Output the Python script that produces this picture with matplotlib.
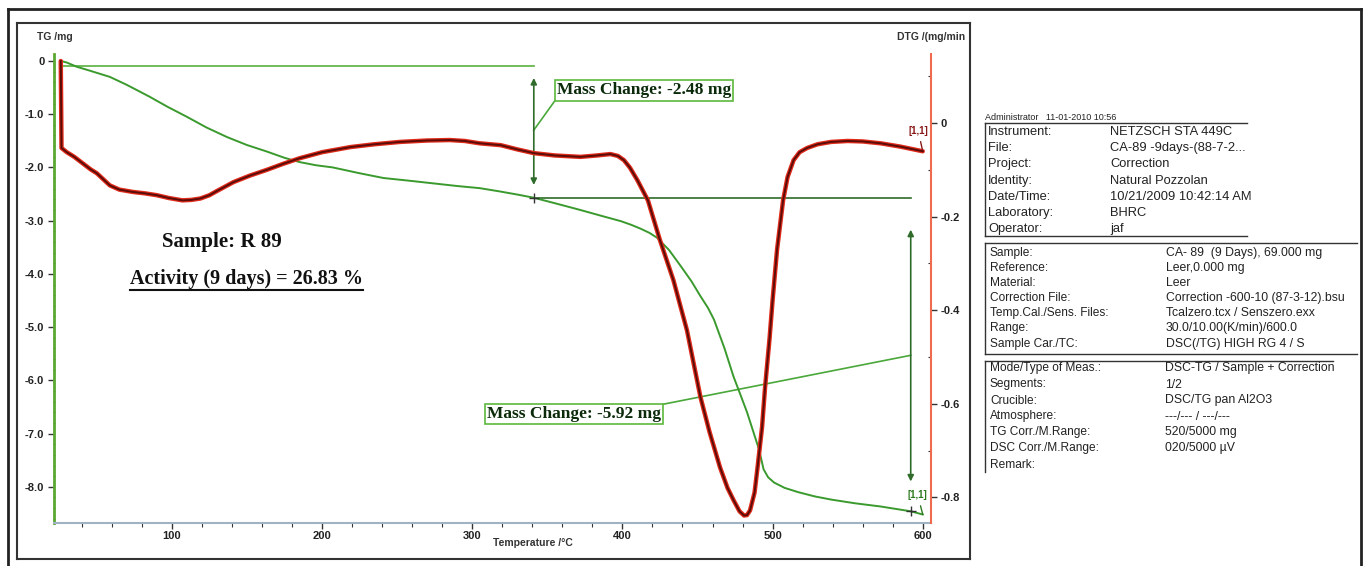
import matplotlib.pyplot as plt
import numpy as np
from matplotlib.lines import Line2D
from matplotlib.ticker import MultipleLocator

# TG curve (mg)
temp_tg = [26, 30, 36.7, 45, 58.7, 70, 85, 97, 110, 123, 136.7, 150, 163, 175, 185, 196, 207,
           225, 241, 258, 274, 290, 305, 318, 330, 341, 356, 372, 386, 399, 406, 412, 418, 423,
           431, 439, 446, 452, 457, 461, 468, 474, 479, 483, 487, 491, 494, 497, 501, 508, 517,
           528, 539, 555, 572, 592, 600]
tg = [0, -0.03, -0.11, -0.18, -0.30, -0.45, -0.67, -0.86, -1.05, -1.25, -1.43, -1.58, -1.70,
      -1.82, -1.90, -1.96, -2.00, -2.11, -2.20, -2.25, -2.30, -2.35, -2.39, -2.45, -2.51, -2.57,
      -2.68, -2.80, -2.91, -3.01, -3.08, -3.15, -3.23, -3.32, -3.55, -3.86, -4.14, -4.42, -4.64,
      -4.86, -5.40, -5.93, -6.30, -6.60, -6.95, -7.30, -7.67, -7.82, -7.92, -8.02, -8.10, -8.18,
      -8.24, -8.31, -8.37, -8.46, -8.52]

# DTG curve (mg/min)
temp_dtg = [26, 26.5, 30, 35, 40.7, 46, 50, 55, 58.7, 65, 74, 82, 90, 98, 107, 113, 119, 125,
            130, 141, 152, 163, 174, 185, 200, 219, 235, 252, 270, 285, 295, 305, 319, 330, 341,
            355, 372, 383, 392, 397, 401, 405, 410, 417, 425, 434, 443, 452, 458, 465, 470, 474,
            478, 481, 483, 485, 488, 490, 493, 495, 498, 500, 503, 507, 510, 514, 518, 523, 530,
            539, 550, 560, 572, 585, 600]
dtg = [0.133, -0.053, -0.062, -0.072, -0.086, -0.099, -0.107, -0.122, -0.133, -0.142, -0.147,
       -0.150, -0.154, -0.160, -0.165, -0.164, -0.161, -0.154, -0.145, -0.126, -0.112, -0.100,
       -0.087, -0.075, -0.062, -0.051, -0.045, -0.040, -0.037, -0.036, -0.038, -0.043, -0.047,
       -0.056, -0.064, -0.069, -0.072, -0.069, -0.066, -0.070, -0.079, -0.095, -0.122, -0.165,
       -0.25, -0.336, -0.443, -0.586, -0.66, -0.736, -0.78, -0.806, -0.83, -0.839, -0.838,
       -0.828, -0.79, -0.736, -0.65, -0.565, -0.46, -0.379, -0.27, -0.165, -0.115, -0.079,
       -0.062, -0.053, -0.045, -0.040, -0.038, -0.039, -0.043, -0.050, -0.060]

# mass change steps
step_temps = [341, 592]
step_levels = [-0.09, -2.57, -8.46]
mass_changes = [-2.48, -5.92]

sample_name = "R 89"
activity = 26.83

# info table on the right
header = "Administrator   11-01-2010 10:56"
block1_labels = ["Instrument:", "File:", "Project:", "Identity:", "Date/Time:", "Laboratory:", "Operator:"]
block1_values = ["NETZSCH STA 449C", "CA-89 -9days-(88-7-2...", "Correction", "Natural Pozzolan",
                 "10/21/2009 10:42:14 AM", "BHRC", "jaf"]
block2_labels = ["Sample:", "Reference:", "Material:", "Correction File:", "Temp.Cal./Sens. Files:",
                 "Range:", "Sample Car./TC:"]
block2_values = ["CA- 89  (9 Days), 69.000 mg", "Leer,0.000 mg", "Leer",
                 "Correction -600-10 (87-3-12).bsu", "Tcalzero.tcx / Senszero.exx",
                 "30.0/10.00(K/min)/600.0", "DSC(/TG) HIGH RG 4 / S"]
block3_labels = ["Mode/Type of Meas.:", "Segments:", "Crucible:", "Atmosphere:", "TG Corr./M.Range:",
                 "DSC Corr./M.Range:", "Remark:"]
block3_values = ["DSC-TG / Sample + Correction", "1/2", "DSC/TG pan Al2O3", "---/--- / ---/---",
                 "520/5000 mg", "020/5000 \u00b5V", ""]

W, H = 1368, 566
plt.rcParams['font.family'] = ['Liberation Sans', 'DejaVu Sans']


def fx(x):
    return x / W


def fy(y):
    return 1 - y / H


fig = plt.figure(figsize=(W / 100, H / 100), dpi=100)

green = '#3a9a2e'
dkgreen = '#2f6b2a'
ax = fig.add_axes([fx(54), fy(523), (931 - 54) / W, (523 - 54) / H])
ax.plot(temp_tg, tg, color=green, lw=1.4, solid_joinstyle='round', zorder=3)
ax.set_xlim(21.5, 605.5)
ax.set_ylim(-8.68, 0.13)

ax2 = ax.twinx()
ax2.plot(temp_dtg, dtg, color='#e02a1a', lw=3.2, solid_capstyle='round', solid_joinstyle='round', zorder=3)
ax2.plot(temp_dtg, dtg, color='#5a0c08', lw=1.4, solid_joinstyle='round', zorder=4)
ax2.set_ylim(-0.855, 0.148)

# spines and ticks
for s in ['top', 'right']:
    ax.spines[s].set_visible(False)
ax.spines['left'].set_color('#5aa832')
ax.spines['left'].set_linewidth(2)
ax.spines['bottom'].set_color('#9fb3c2')
ax.spines['bottom'].set_linewidth(1.5)
for s in ['top', 'left', 'bottom']:
    ax2.spines[s].set_visible(False)
ax2.spines['right'].set_color('#f06a50')
ax2.spines['right'].set_linewidth(1.5)

tick_font = dict(labelsize=8, labelcolor='#222222')
ax.set_yticks([0, -1, -2, -3, -4, -5, -6, -7, -8])
ax.set_yticklabels(['0', '-1.0', '-2.0', '-3.0', '-4.0', '-5.0', '-6.0', '-7.0', '-8.0'])
ax.yaxis.set_minor_locator(MultipleLocator(0.2))
ax.set_xticks([100, 200, 300, 400, 500, 600])
ax.xaxis.set_minor_locator(MultipleLocator(20))
ax.tick_params(axis='y', which='major', length=4, width=1, color='#333333', pad=3, **tick_font)
ax.tick_params(axis='y', which='minor', length=2, width=0.8, color='#333333', direction='inout')
ax.tick_params(axis='x', which='major', length=4, width=1, color='#333333', pad=2, **tick_font)
ax.tick_params(axis='x', which='minor', length=3, width=0.8, color='#333333')
ax2.set_yticks([0, -0.2, -0.4, -0.6, -0.8])
ax2.set_yticklabels(['0', '-0.2', '-0.4', '-0.6', '-0.8'])
ax2.yaxis.set_minor_locator(MultipleLocator(0.1))
ax2.tick_params(axis='y', which='major', length=4, width=1, color='#333333', pad=3, **tick_font)
ax2.tick_params(axis='y', which='minor', length=2, width=0.8, color='#333333', direction='in')
for lab in ax.get_xticklabels() + ax.get_yticklabels() + ax2.get_yticklabels():
    lab.set_fontweight('semibold')

# mass change annotations
ax.plot([temp_tg[0], step_temps[0]], [step_levels[0]] * 2, color='#66b84f', lw=1.3, zorder=2)
ax.plot([step_temps[0], step_temps[1]], [step_levels[1]] * 2, color=dkgreen, lw=1.2, zorder=2)
ax.plot([step_temps[0], step_temps[1]], [step_levels[1], step_levels[2]], ls='none',
        marker='+', ms=7, color='#333333', mew=1, zorder=5)
arrow = dict(arrowstyle='<|-|>', color=dkgreen, lw=1.2, mutation_scale=9, shrinkA=0, shrinkB=0)
ax.annotate('', xy=(step_temps[0], -2.33), xytext=(step_temps[0], -0.32), arrowprops=arrow)
ax.annotate('', xy=(step_temps[1], -7.90), xytext=(step_temps[1], -3.17), arrowprops=arrow)

box = dict(boxstyle='square,pad=0.12', fc='white', ec='#5cb83c', lw=1.2)
ax.plot([step_temps[0], 355], [-1.30, -0.75], color='#4aa83a', lw=1.2, zorder=2)
ax.text(414.5, -0.555, f'Mass Change: {mass_changes[0]:.2f} mg', family='Liberation Serif',
        weight='bold', fontsize=12.5, ha='center', va='center', color='#0a2a0a', bbox=box, zorder=6)
ax.plot([step_temps[1], 427], [-5.53, -6.45], color='#4aa83a', lw=1.2, zorder=2)
ax.text(368, -6.64, f'Mass Change: {mass_changes[1]:.2f} mg', family='Liberation Serif',
        weight='bold', fontsize=12.5, ha='center', va='center', color='#0a2a0a', bbox=box, zorder=6)

ax2.annotate('[1,1]', xy=(temp_dtg[-1], dtg[-1]), xytext=(597, -0.017), fontsize=7,
             weight='bold', color='#8a1a1a', ha='center', va='center',
             arrowprops=dict(arrowstyle='-', color='#8a1a1a', lw=1, shrinkA=2, shrinkB=0))
ax.annotate('[1,1]', xy=(temp_tg[-1], tg[-1]), xytext=(596.7, -8.16), fontsize=7,
            weight='bold', color='#2f7a20', ha='center', va='center',
            arrowprops=dict(arrowstyle='-', color='#2f7a20', lw=1, shrinkA=2, shrinkB=0))

ax.text(133, -3.41, f'Sample: {sample_name}', family='Liberation Serif', weight='bold',
        fontsize=15, ha='center', va='center', color='#111111')
act = ax.text(150, -4.09, f'Activity (9 days) = {activity:.2f} %', family='Liberation Serif',
              weight='bold', fontsize=14.5, ha='center', va='center', color='#111111')

# axis titles
fig.text(fx(37), fy(37), 'TG /mg', fontsize=7.5, weight='semibold', color='#333333', va='center')
fig.text(fx(897), fy(37), 'DTG /(mg/min', fontsize=7.5, weight='semibold', color='#333333', va='center')
fig.text(fx(493), fy(543), 'Temperature /\u00b0C', fontsize=7.5, weight='semibold', color='#333333', va='center')


def fline(x0, y0, x1, y1, lw=1.2, color='#333333'):
    fig.add_artist(Line2D([fx(x0), fx(x1)], [fy(y0), fy(y1)], lw=lw, color=color))


# frames
fline(8, 9, 1361, 9, lw=2, color='#222222')
fline(8, 9, 8, 566, lw=2, color='#222222')
fline(1361, 9, 1361, 566, lw=2, color='#222222')
fline(17, 23, 970, 23, lw=1.5)
fline(17, 23, 17, 559, lw=1.5)
fline(970, 23, 970, 559, lw=1.5)
fline(17, 559, 970, 559, lw=1.5)

# info table
fig.text(fx(985), fy(117), header, fontsize=6.5, color='#222222', va='center')
fline(985, 123, 1247, 123, lw=1)
fline(985, 236, 1247, 236, lw=1)
fline(985, 123, 985, 236, lw=1)
for i, (lab, val) in enumerate(zip(block1_labels, block1_values)):
    y = 132 + i * 16.2
    fig.text(fx(988), fy(y), lab, fontsize=9.3, color='#222222', va='center')
    fig.text(fx(1110), fy(y), val, fontsize=9.3, color='#222222', va='center')

fline(985, 243, 1357, 243, lw=1)
fline(985, 354, 1357, 354, lw=1)
fline(985, 243, 985, 354, lw=1)
for i, (lab, val) in enumerate(zip(block2_labels, block2_values)):
    y = 252.5 + i * 15.2
    fig.text(fx(990), fy(y), lab, fontsize=8.6, color='#222222', va='center')
    fig.text(fx(1166), fy(y), val, fontsize=8.8, color='#222222', va='center')

fline(985, 361, 1333, 361, lw=1)
fline(985, 361, 985, 472, lw=1)
for i, (lab, val) in enumerate(zip(block3_labels, block3_values)):
    y = 368.5 + i * 16
    fig.text(fx(990), fy(y), lab, fontsize=8.6, color='#222222', va='center')
    fig.text(fx(1165), fy(y), val, fontsize=8.8, color='#222222', va='center')

# underline the activity text
fig.canvas.draw()
bb = act.get_window_extent()
fig.add_artist(Line2D([bb.x0 / W, bb.x1 / W], [(bb.y0 - 1) / H] * 2, lw=1.5, color='#111111'))

fig.savefig('out.png', dpi=100)
